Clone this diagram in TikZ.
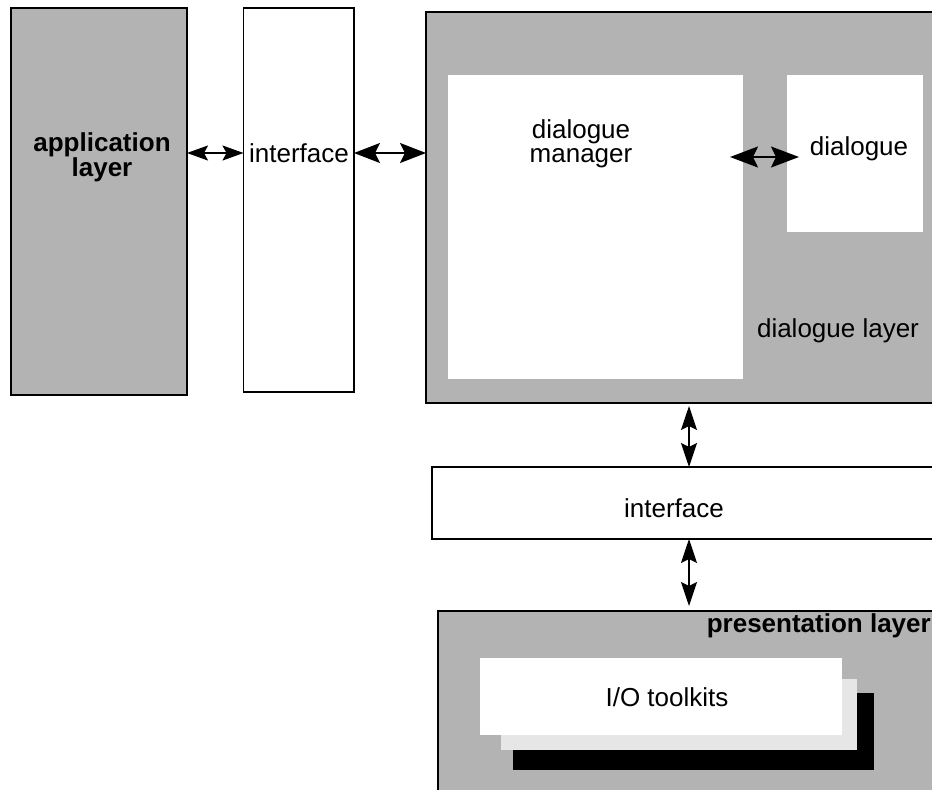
\documentclass[tikz,border=0pt]{standalone}
\usepackage{fontspec}
\setmainfont{Liberation Sans}
\usetikzlibrary{arrows.meta}
\definecolor{layergray}{HTML}{B3B3B3}
\definecolor{shadowgray}{HTML}{E6E6E6}
\begin{document}
\begin{tikzpicture}[x=1pt,y=-1pt,
  font=\fontsize{26}{24}\selectfont,
  rbox/.style={draw, line width=1.8pt, inner sep=0pt, outer sep=0pt, anchor=north west},
  wbox/.style={fill=white, draw=none, inner sep=0pt, outer sep=0pt, anchor=north west},
  lbl/.style={inner sep=0pt, align=center},
  arrS/.style={line width=1.8pt, {Stealth[length=21pt,width=15pt,inset=4pt]}-{Stealth[length=21pt,width=15pt,inset=4pt]}},
  arrM/.style={line width=1.8pt, {Stealth[length=26pt,width=20pt,inset=5pt]}-{Stealth[length=26pt,width=20pt,inset=5pt]}},
  arrL/.style={line width=1.8pt, {Stealth[length=28pt,width=21pt,inset=5pt]}-{Stealth[length=28pt,width=21pt,inset=5pt]}},
  arrV/.style={line width=1.8pt, {Stealth[length=24pt,width=16pt,inset=4pt]}-{Stealth[length=24pt,width=16pt,inset=4pt]}}
]
\useasboundingbox (0,0) rectangle (932,790);
\fill[white] (0,0) rectangle (932,790);
\clip (0,0) rectangle (932,790);

% application layer and vertical interface
\node[rbox, fill=layergray, minimum width=176pt, minimum height=387pt] (app) at (11,8) {};
\node[rbox, fill=white, minimum width=110.5pt, minimum height=384pt] (ifv) at (243.5,8) {};
\node[lbl, font=\fontsize{26}{25}\selectfont\bfseries] (appl) at (102,157) {application\\layer};
\node[lbl] (ifvl) at (299,153) {interface};

% dialogue layer
\node[rbox, fill=layergray, minimum width=540pt, minimum height=391pt] (dl) at (426,12) {};
\node[wbox, minimum width=295pt, minimum height=304pt] (dm) at (448,75) {};
\node[wbox, minimum width=136pt, minimum height=157pt] (dg) at (787,75) {};
\node[lbl] (dml) at (581,144) {dialogue\\manager};
\node[lbl] (dgl) at (859,149) {dialogue};
\node[lbl] (dll) at (838,331) {dialogue layer};

% horizontal interface
\node[rbox, fill=white, minimum width=530pt, minimum height=72pt] (ifh) at (432,467) {};
\node[lbl] (ifhl) at (674,508) {interface};

% presentation layer
\node[rbox, fill=layergray, minimum width=530pt, minimum height=200pt] (pl) at (438,611) {};
\node[lbl, anchor=east, font=\fontsize{26}{24}\selectfont\bfseries] (pll) at (931,626) {presentation layer};
\node[wbox, fill=black, minimum width=361pt, minimum height=77pt] (iosh2) at (513,693) {};
\node[wbox, fill=shadowgray, minimum width=356pt, minimum height=71pt] (iosh1) at (501,679) {};
\node[wbox, minimum width=362pt, minimum height=77pt] (io) at (480,658) {};
\node[lbl] (iol) at (667,697) {I/O toolkits};

% connectors
\coordinate (dgarr) at (760,157);
\coordinate (dmR) at ([xshift=-13pt]dm.east);
\coordinate (dgL) at ([xshift=12pt]dg.west);
\coordinate (vx) at (689,0);
\draw[arrS] (app.east |- ifvl.center) -- (ifv.west |- ifvl.center);
\draw[arrM] (ifv.east |- ifvl.center) -- (dl.west |- ifvl.center);
\draw[arrL] (dmR |- dgarr) -- (dgL |- dgarr);
\draw[arrV, shorten <=3pt] (dl.south -| vx) -- (ifh.north -| vx);
\draw[arrV, shorten >=5pt] (ifh.south -| vx) -- (pl.north -| vx);
\end{tikzpicture}
\end{document}
